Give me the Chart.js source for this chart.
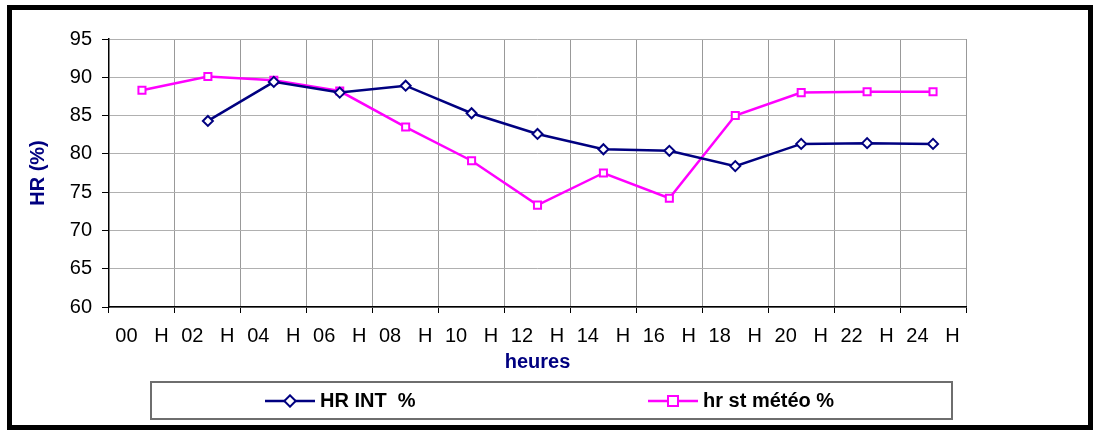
<!DOCTYPE html>
<html>
<head>
<meta charset="utf-8">
<script src="https://cdn.jsdelivr.net/npm/chart.js@4"></script>
<style>
  body { margin: 0; background: #fff; font-family: "Liberation Sans", Arial, sans-serif; }
  #wrap { position: relative; width: 1095px; height: 431px; }
  #frame { position: absolute; left: 7px; top: 5px; width: 1076px; height: 415px; border: 5px solid #000; }
  #legend { position: absolute; left: 150px; top: 381px; width: 799px; height: 35px; border: 2px solid #6e6e6e; }
  .item { position: absolute; top: 0; height: 35px; display: flex; align-items: center; font-weight: bold; font-size: 20px; color: #000; }
  .item svg { margin-right: 5px; display: block; }
  .item span { white-space: pre; }
  canvas { position: absolute; left: 0; top: 0; }
</style>
</head>
<body>
<div id="wrap">
  <canvas id="hrChart" width="1095" height="431"></canvas>
  <div id="frame"></div>
  <div id="legend">
    <div class="item" style="left:113px"><svg width="50" height="14"><line x1="0" y1="7" x2="50" y2="7" stroke="#000080" stroke-width="2.5"/><rect x="21" y="3" width="8" height="8" transform="rotate(45 25 7)" fill="#fff" stroke="#000080" stroke-width="2"/></svg><span>HR INT  %</span></div>
    <div class="item" style="left:496px"><svg width="50" height="14"><line x1="0" y1="7" x2="50" y2="7" stroke="#ff00ff" stroke-width="2.5"/><rect x="20" y="2" width="10" height="10" fill="#fff" stroke="#ff00ff" stroke-width="2"/></svg><span>hr st météo %</span></div>
  </div>
</div>
<script>
// categories (hours) and series
var hours = ['00   H', '02   H', '04   H', '06   H', '08   H', '10   H', '12   H',
             '14   H', '16   H', '18   H', '20   H', '22   H', '24   H'];
var hrInt = [null, 84.3, 89.4, 88.0, 88.9, 85.3, 82.6, 80.6, 80.4, 78.4, 81.3, 81.4, 81.3];
var hrMeteo = [88.3, 90.1, 89.6, 88.2, 83.5, 79.1, 73.3, 77.5, 74.2, 85.0, 88.0, 88.1, 88.1];
var yMin = 60, yMax = 95, yStep = 5;

var ctx = document.getElementById('hrChart').getContext('2d');
var font = "'Liberation Sans', Arial, sans-serif";

var myChart = new Chart(ctx, {
  type: 'line',
  data: {
    labels: hours,
    datasets: [
      {
        label: 'HR INT  %',
        data: hrInt,
        borderColor: '#000080',
        backgroundColor: '#ffffff',
        borderWidth: 2.5,
        pointStyle: 'rectRot',
        pointRadius: 5,
        pointBorderWidth: 2,
        tension: 0
      },
      {
        label: 'hr st météo %',
        data: hrMeteo,
        borderColor: '#ff00ff',
        backgroundColor: '#ffffff',
        borderWidth: 2.5,
        pointStyle: 'rect',
        pointRadius: 5,
        pointBorderWidth: 2,
        tension: 0
      }
    ]
  },
  options: {
    responsive: false,
    animation: false,
    layout: { padding: { left: 22, right: 129, top: 39, bottom: 53 } },
    scales: {
      x: {
        offset: true,
        grid: { offset: true, color: '#999', tickLength: 6, tickColor: '#000' },
        border: { color: '#000', width: 1.5 },
        ticks: { color: '#000', font: { family: font, size: 20 }, padding: 11, maxRotation: 0, autoSkip: false },
        title: { display: true, text: 'heures', color: '#000080', font: { family: font, size: 20, weight: 'bold' }, padding: 4 },
        afterFit: function(scale) { scale.height = 71; }
      },
      y: {
        min: yMin,
        max: yMax,
        grid: { color: '#b0b0b0', tickLength: 7, tickColor: '#000' },
        border: { color: '#000', width: 1.5 },
        ticks: { stepSize: yStep, color: '#000', font: { family: font, size: 20 }, padding: 10 },
        title: { display: true, text: 'HR (%)', color: '#000080', font: { family: font, size: 20, weight: 'bold' }, padding: 4 },
        afterFit: function(scale) { scale.width = 87; }
      }
    },
    plugins: {
      legend: { display: false },
      tooltip: { enabled: false }
    }
  }
});
</script>
</body>
</html>
